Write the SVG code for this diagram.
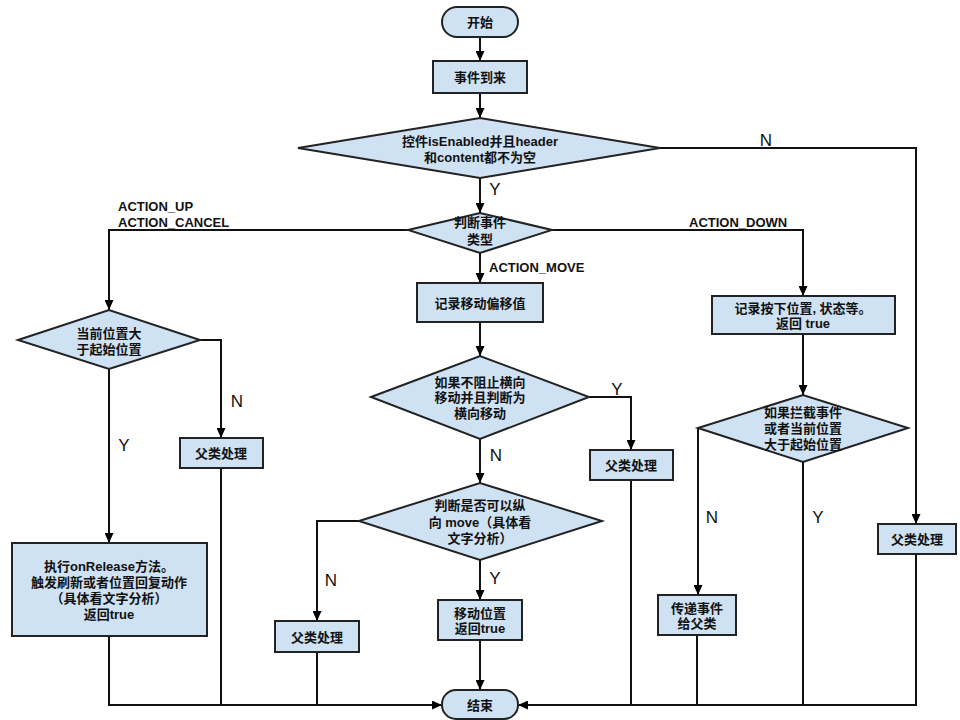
<svg xmlns="http://www.w3.org/2000/svg" width="960" height="720" viewBox="0 0 960 720">
<defs>
<marker id="arr" markerUnits="userSpaceOnUse" markerWidth="10" markerHeight="9" refX="10" refY="4.5" orient="auto">
<path d="M0,0 L10,4.5 L0,9 z" fill="#000"/>
</marker>
<style>
.n{fill:#cfe2f3;stroke:#222;stroke-width:2}
.t{font-family:"Liberation Sans","Noto Sans CJK SC",sans-serif;font-size:13px;font-weight:bold;fill:#111;text-anchor:middle}
.l{font-family:"Liberation Sans","Noto Sans CJK SC",sans-serif;font-size:13px;font-weight:bold;fill:#111}
.yn{font-family:"Liberation Sans",sans-serif;font-size:17px;fill:#111;text-anchor:middle}
.c{fill:none;stroke:#111;stroke-width:2}
.a{marker-end:url(#arr)}
</style>
</defs>
<rect width="960" height="720" fill="#fff"/>
<g id="connectors">
<path class="c a" d="M480,37 V61"/>
<path class="c a" d="M480,93 V118"/>
<path class="c a" d="M660,148 H916 V524"/>
<path class="c a" d="M480,178 V213"/>
<path class="c a" d="M408,230 H109 V310"/>
<path class="c a" d="M552,230 H803 V296"/>
<path class="c a" d="M480,253 V283"/>
<path class="c a" d="M480,322 V356"/>
<path class="c a" d="M589,397 H631 V450"/>
<path class="c a" d="M480,439 V483"/>
<path class="c a" d="M359,521 H317 V621"/>
<path class="c a" d="M480,560 V600"/>
<path class="c a" d="M480,640 V690"/>
<path class="c a" d="M200,340 H221 V438"/>
<path class="c a" d="M109,369 V543"/>
<path class="c a" d="M803,334 V395"/>
<path class="c a" d="M698,428 V595"/>
<path class="c" d="M803,462 V705"/>
<path class="c a" d="M916,554 V705 H518"/>
<path class="c a" d="M109,636 V705 H442"/>
<path class="c" d="M221,468 V705"/>
<path class="c" d="M317,652 V705"/>
<path class="c" d="M631,480 V705"/>
<path class="c" d="M697,635 V705"/>
<text class="yn" x="766" y="146">N</text>
<text class="yn" x="495" y="195">Y</text>
<text class="l" x="118" y="211">ACTION_UP</text>
<text class="l" x="118" y="227">ACTION_CANCEL</text>
<text class="l" x="689" y="227">ACTION_DOWN</text>
<text class="l" x="489" y="272">ACTION_MOVE</text>
<text class="yn" x="237" y="407">N</text>
<text class="yn" x="124" y="451">Y</text>
<text class="yn" x="617" y="395">Y</text>
<text class="yn" x="496" y="461">N</text>
<text class="yn" x="331" y="586">N</text>
<text class="yn" x="495" y="584">Y</text>
<text class="yn" x="712" y="523">N</text>
<text class="yn" x="818" y="523">Y</text>
</g>
<g id="start"><rect class="n" x="442" y="7" width="76" height="30" rx="15"/><text class="t" x="480" y="26.5">开始</text></g>
<g id="event"><rect class="n" x="433" y="61" width="94" height="32"/><text class="t" x="480" y="81.5">事件到来</text></g>
<g id="d1"><polygon class="n" points="298,148 480,118 660,148 480,178"/><text class="t" x="480" y="146">控件isEnabled并且header</text><text class="t" x="480" y="162">和content都不为空</text></g>
<g id="d2"><polygon class="n" points="408,230 480,213 552,230 480,253"/><text class="t" x="480" y="226.5">判断事件</text><text class="t" x="480" y="243.5">类型</text></g>
<g id="recmove"><rect class="n" x="417" y="283" width="126" height="39"/><text class="t" x="480" y="307.5">记录移动偏移值</text></g>
<g id="d4"><polygon class="n" points="371,397 480,356 589,397 480,439"/><text class="t" x="480" y="386.5">如果不阻止横向</text><text class="t" x="480" y="401.5">移动并且判断为</text><text class="t" x="480" y="417.5">横向移动</text></g>
<g id="parent2"><rect class="n" x="590" y="450" width="83" height="30"/><text class="t" x="631" y="469.5">父类处理</text></g>
<g id="d5"><polygon class="n" points="359,521 480,483 602,521 480,560"/><text class="t" x="480" y="509.5">判断是否可以纵</text><text class="t" x="480" y="526.5">向 move（具体看</text><text class="t" x="480" y="542.5">文字分析）</text></g>
<g id="parent3"><rect class="n" x="275" y="621" width="84" height="31"/><text class="t" x="317" y="641.5">父类处理</text></g>
<g id="movepos"><rect class="n" x="438" y="600" width="84" height="40"/><text class="t" x="480" y="617.5">移动位置</text><text class="t" x="480" y="632.5">返回true</text></g>
<g id="end"><rect class="n" x="442" y="690" width="76" height="29" rx="14"/><text class="t" x="480" y="709.5">结束</text></g>
<g id="d3"><polygon class="n" points="18,340 109,310 200,340 109,369"/><text class="t" x="109" y="337.5">当前位置大</text><text class="t" x="109" y="353.5">于起始位置</text></g>
<g id="parent1"><rect class="n" x="180" y="438" width="83" height="30"/><text class="t" x="221" y="457.5">父类处理</text></g>
<g id="release"><rect class="n" x="12" y="543" width="195" height="93"/><text class="t" x="109" y="570.5">执行onRelease方法。</text><text class="t" x="109" y="586.5">触发刷新或者位置回复动作</text><text class="t" x="109" y="602.5">（具体看文字分析）</text><text class="t" x="109" y="618.5">返回true</text></g>
<g id="recdown"><rect class="n" x="712" y="296" width="183" height="38"/><text class="t" x="803" y="312.5">记录按下位置, 状态等。</text><text class="t" x="803" y="327.5">返回 true</text></g>
<g id="d6"><polygon class="n" points="698,428 803,395 908,428 803,462"/><text class="t" x="803" y="416.5">如果拦截事件</text><text class="t" x="803" y="432.5">或者当前位置</text><text class="t" x="803" y="448.5">大于起始位置</text></g>
<g id="pass"><rect class="n" x="658" y="595" width="78" height="40"/><text class="t" x="697" y="612.5">传递事件</text><text class="t" x="697" y="627.5">给父类</text></g>
<g id="parent4"><rect class="n" x="878" y="524" width="78" height="30"/><text class="t" x="917" y="543.5">父类处理</text></g>
</svg>
